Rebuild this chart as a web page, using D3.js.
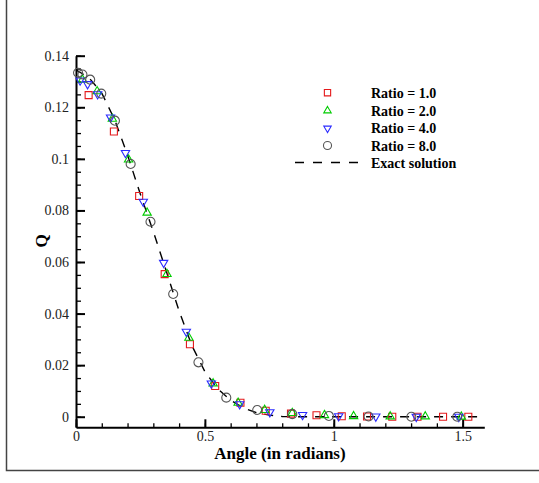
<!DOCTYPE html>
<html>
<head>
<meta charset="utf-8">
<script src="https://cdn.jsdelivr.net/npm/d3@7"></script>
<style>
  body { margin: 0; background: #fff; }
  svg text { font-family: "Liberation Serif", "Times New Roman", serif; }
</style>
</head>
<body>
<script>
// data: [angle, Q]
const ratio1 = [[0.049,0.1247],[0.147,0.1106],[0.245,0.0856],[0.344,0.0553],[0.442,0.0281],[0.540,0.0119],
  [0.638,0.0054],[0.736,0.0023],[0.834,0.0012],[0.933,0.0006],[1.031,0.0002],[1.129,0.0001],
  [1.227,0],[1.325,0],[1.424,0],[1.522,0]];
const ratio2 = [[0.025,0.1307],[0.082,0.1262],[0.141,0.1155],[0.204,0.0997],[0.276,0.0791],[0.353,0.0553],
  [0.438,0.0306],[0.532,0.0129],[0.629,0.0054],[0.732,0.0026],[0.839,0.0014],[0.964,0.0006],
  [1.077,0.0002],[1.219,0.0001],[1.355,0.0001],[1.495,0]];
const ratio4 = [[0.016,0.1304],[0.045,0.129],[0.084,0.1251],[0.134,0.1161],[0.192,0.1023],[0.261,0.0834],
  [0.340,0.0597],[0.428,0.033],[0.525,0.0129],[0.635,0.0049],[0.752,0.0018],[0.879,0.0007],
  [1.019,0.0002],[1.163,0.0001],[1.320,0],[1.485,0]];
const ratio8 = [[0.008,0.1334],[0.025,0.1327],[0.055,0.1307],[0.098,0.1253],[0.151,0.1148],[0.212,0.098],
  [0.289,0.0756],[0.377,0.0476],[0.475,0.0211],[0.583,0.0074],[0.703,0.0026],[0.839,0.001],
  [0.981,0.0003],[1.135,0.0001],[1.301,0],[1.479,0]];
const exact = [[0,0.1345],[0.05,0.1315],[0.1,0.1255],[0.15,0.1152],[0.2,0.1015],[0.25,0.0862],[0.3,0.0718],
  [0.35,0.0565],[0.4,0.041],[0.45,0.0275],[0.5,0.0175],[0.55,0.0108],[0.6,0.0064],[0.65,0.0034],
  [0.7,0.0016],[0.75,0.0006],[0.8,0.0001],[0.85,0],[1.5608,0]];

const legendLabels = ["Ratio = 1.0", "Ratio = 2.0", "Ratio = 4.0", "Ratio = 8.0", "Exact solution"];
const xMajor = [0, 0.5, 1, 1.5];
const yMajor = [0, 0.02, 0.04, 0.06, 0.08, 0.1, 0.12, 0.14];

const W = 539, H = 483;
const svg = d3.select("body").append("svg")
    .attr("width", W)
    .attr("height", H);

// outer frame (left + bottom visible)
svg.append("path")
    .attr("d", "M6.5,0 V470.5 H539")
    .attr("fill", "none")
    .attr("stroke", "#444")
    .attr("stroke-width", 1.5);

const x = d3.scaleLinear().domain([0, 1.584]).range([76, 484.3]);
const y = d3.scaleLinear().domain([-0.0041, 0.14]).range([427.3, 55.7]);

// minor ticks
svg.append("g")
    .attr("transform", `translate(0,${y.range()[0]})`)
    .call(d3.axisBottom(x).tickValues(d3.range(0, 1.6, 0.1).filter(v => v < 1.584)).tickSize(-4).tickFormat(""))
    .call(g => g.select(".domain").remove())
    .call(g => g.selectAll("line").attr("stroke-width", 1.3));
svg.append("g")
    .attr("transform", `translate(${x.range()[0]},0)`)
    .call(d3.axisLeft(y).tickValues(d3.range(0, 0.1401, 0.005)).tickSize(-5).tickFormat(""))
    .call(g => g.select(".domain").remove())
    .call(g => g.selectAll("line").attr("stroke-width", 1.3));

// major axes
const fmt = d => String(+d.toFixed(2));
svg.append("g")
    .attr("transform", `translate(0,${y.range()[0]})`)
    .call(d3.axisBottom(x).tickValues(xMajor).tickSize(-8).tickSizeOuter(0).tickPadding(4).tickFormat(fmt))
    .call(g => g.select(".domain").attr("stroke-width", 2))
    .call(g => g.selectAll("line").attr("stroke-width", 2))
    .call(g => g.selectAll("text").attr("font-size", 14).attr("fill", "#222"));
svg.append("g")
    .attr("transform", `translate(${x.range()[0]},0)`)
    .call(d3.axisLeft(y).tickValues(yMajor).tickSize(-9).tickSizeOuter(0).tickPadding(7).tickFormat(fmt))
    .call(g => g.select(".domain").attr("stroke-width", 2))
    .call(g => g.selectAll("line").attr("stroke-width", 2))
    .call(g => g.selectAll("text").attr("font-size", 14).attr("fill", "#222"));

// axis titles
svg.append("text")
    .attr("x", 280).attr("y", 459)
    .attr("text-anchor", "middle")
    .attr("font-size", 17).attr("font-weight", "bold")
    .text("Angle (in radians)");
svg.append("text")
    .attr("transform", "translate(47,241) rotate(-90)")
    .attr("text-anchor", "middle")
    .attr("font-size", 17).attr("font-weight", "bold")
    .text("Q");

// exact solution
const line = d3.line().x(d => x(d[0])).y(d => y(d[1]));
svg.append("path")
    .datum(exact)
    .attr("d", line)
    .attr("fill", "none")
    .attr("stroke", "#000")
    .attr("stroke-width", 1.4)
    .attr("stroke-dasharray", "9,8");

// markers
const series = [
  {data: ratio1, color: "#e41a1c", sym: d3.symbolSquare, size: 49, rot: 0},
  {data: ratio2, color: "#00cc00", sym: d3.symbolTriangle, size: 30, rot: 0},
  {data: ratio4, color: "#2b2bff", sym: d3.symbolTriangle, size: 30, rot: 180},
  {data: ratio8, color: "#555", sym: d3.symbolCircle, size: 64, rot: 0}
];
series.forEach(s => {
  svg.append("g").selectAll("path")
    .data(s.data)
    .join("path")
    .attr("d", d3.symbol(s.sym, s.size))
    .attr("transform", d => `translate(${x(d[0])},${y(d[1])}) rotate(${s.rot})`)
    .attr("fill", "none")
    .attr("stroke", s.color)
    .attr("stroke-width", 1.1);
});

// legend
const legY = [92.7, 110.7, 128.3, 145.5, 162.5];
const leg = svg.append("g");
series.forEach((s, i) => {
  leg.append("path")
    .attr("d", d3.symbol(s.sym, s.size * 0.8))
    .attr("transform", `translate(327.5,${legY[i]}) rotate(${s.rot})`)
    .attr("fill", "none")
    .attr("stroke", s.color)
    .attr("stroke-width", 1.1);
});
leg.append("line")
    .attr("x1", 295).attr("x2", 360)
    .attr("y1", legY[4]).attr("y2", legY[4])
    .attr("stroke", "#000").attr("stroke-width", 1.4)
    .attr("stroke-dasharray", "9,9");
legendLabels.forEach((t, i) => {
  leg.append("text")
    .attr("x", 371).attr("y", legY[i] + 5)
    .attr("font-size", 14).attr("font-weight", "bold")
    .text(t);
});
</script>
</body>
</html>
